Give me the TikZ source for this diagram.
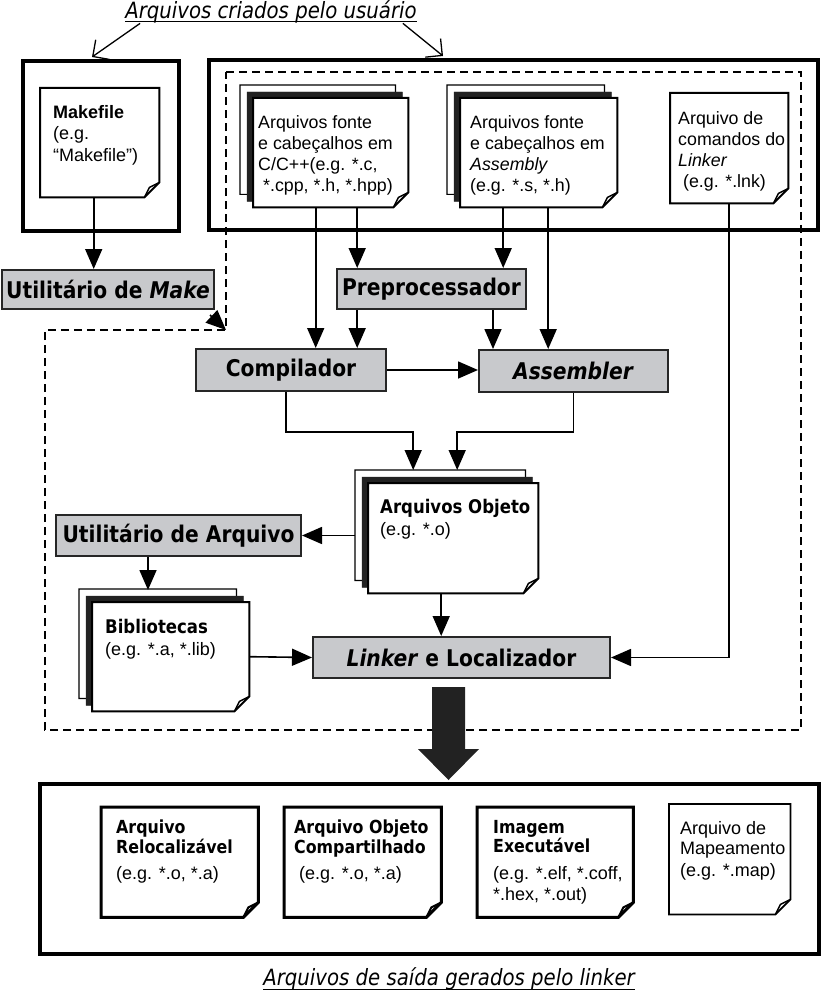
\documentclass[tikz,border=0pt]{standalone}
\usepackage{fontspec}
\setmainfont{DejaVu Sans}[FakeStretch=0.88]
\newfontfamily\arial{Liberation Sans}
\usetikzlibrary{arrows.meta}
\definecolor{cinzacaixa}{RGB}{200,201,204}
\definecolor{pretofolha}{RGB}{34,34,34}
\newcommand{\folha}[3][]{%
\draw[#1] ([shift={(-#3,#3)}]#2.north west) -- ([shift={(-#3,#3)}]#2.north east)
 -- ([shift={(-#3,15pt+#3)}]#2.south east) -- ([shift={(-15pt-#3,#3)}]#2.south east)
 -- ([shift={(-#3,#3)}]#2.south west) -- cycle;}
\newcommand{\dobra}[2][]{%
\draw[#1,line join=round] ([xshift=-15pt]#2.south east) -- ([shift={(-10pt,10pt)}]#2.south east)
 -- ([yshift=15pt]#2.south east);}
\newcommand{\pilha}[1]{%
\folha[fill=white,line width=1.2pt]{#1}{13pt}
\folha[fill=pretofolha,draw=pretofolha]{#1}{6pt}}

\begin{document}
\begin{tikzpicture}[x=1pt,y=-1pt,
seta/.style={line width=1.6pt,-{Triangle[length=20pt,width=17pt]}},
aberta/.style={line width=1.3pt,-{Straight Barb[length=12pt,width=24pt]}},
caixa/.style={draw,line width=4pt,anchor=north west,inner sep=0pt},
processo/.style={draw=black!85,line width=2pt,fill=cinzacaixa,anchor=north west,inner sep=0pt,
 font=\bfseries\fontsize{23}{26}\selectfont},
folhano/.style={anchor=north west,inner sep=0pt},
texto/.style={anchor=north west,inner sep=0pt,align=left,font=\fontsize{18}{21}\selectfont},
fonte/.style={texto,font=\arial\fontsize{17.8}{21.2}\selectfont},
titulo/.style={anchor=base,inner sep=0pt,font=\itshape\fontsize{22.4}{26}\selectfont},
tracejado/.style={line width=1.8pt,dash pattern=on 8pt off 5pt}]
\useasboundingbox (0,0) rectangle (820,1000);

\node[titulo] (tit1) at (271,18.5) {Arquivos criados pelo usuário};
\draw[line width=1pt] ([yshift=-3.5pt]tit1.base west) -- ([yshift=-3.5pt]tit1.base east);
\node[caixa,minimum width=156pt,minimum height=170pt] (usrmake) at (21,59) {};
\node[caixa,minimum width=609pt,minimum height=170pt] (usrfont) at (207,58) {};
\draw[aberta] ([xshift=15pt]tit1.south west) -- ([shift={(-9pt,2pt)}]usrmake.north);
\draw[aberta] ([xshift=-14pt]tit1.south east) -- ([shift={(236pt,2pt)}]usrfont.north west);
\draw[tracejado] (226,72) -- (801,72) -- (801,730) -- (45,730) -- (45,330)
 -- (226,330) coordinate (dcanto) -- cycle;

\node[folhano,minimum width=119pt,minimum height=109pt] (mkf) at (40,88) {};
\folha[fill=white,line width=2pt]{mkf}{0pt}\dobra[line width=1.5pt]{mkf}
\node[texto,font=\arial\fontsize{18}{21.5}\selectfont] (mkft) at (53,105)
 {\textbf{Makefile}\\(e.g.\\“Makefile”)};
\node[folhano,minimum width=155pt,minimum height=109pt] (cpp) at (253,98) {};
\pilha{cpp}\folha[fill=white,line width=2pt]{cpp}{0pt}\dobra[line width=1.5pt]{cpp}
\node[fonte] (cppt) at (258,115)
 {Arquivos fonte\\e cabeçalhos em\\C/C++(e.g. *.c,\\\ *.cpp, *.h, *.hpp)};
\node[folhano,minimum width=157pt,minimum height=109pt] (asmd) at (460,98) {};
\pilha{asmd}\folha[fill=white,line width=2pt]{asmd}{0pt}\dobra[line width=1.5pt]{asmd}
\node[fonte] (asmt) at (470,115)
 {Arquivos fonte\\e cabeçalhos em\\\textit{Assembly}\\(e.g. *.s, *.h)};
\node[folhano,minimum width=118pt,minimum height=110pt] (lnkd) at (670,93) {};
\folha[fill=white,line width=2pt]{lnkd}{0pt}\dobra[line width=1.5pt]{lnkd}
\node[fonte] (lnkt) at (678,111)
 {Arquivo de\\comandos do\\\textit{Linker}\\\ (e.g. *.lnk)};

\node[processo,minimum width=212pt,minimum height=39pt] (umk) at (1,269) {Utilitário de \textit{Make}};
\node[processo,minimum width=189pt,minimum height=40pt] (pre) at (336,268) {Preprocessador};
\node[processo,minimum width=190pt,minimum height=42pt] (comp) at (195,348) {Compilador};
\node[processo,minimum width=189pt,minimum height=42pt] (asmb) at (478,349) {\textit{Assembler}};
\node[processo,minimum width=245pt,minimum height=41pt] (uarq) at (55,514) {Utilitário de Arquivo};
\node[processo,minimum width=297pt,minimum height=41pt] (link) at (312,636) {\textit{Linker} e Localizador};

\node[folhano,minimum width=170pt,minimum height=110pt] (obj) at (368,483) {};
\pilha{obj}\folha[fill=white,line width=2pt]{obj}{0pt}\dobra[line width=1.5pt]{obj}
\node[texto,font=\fontsize{18.8}{22}\selectfont] (objt) at (380,499)
 {\textbf{Arquivos Objeto}\\{\arial\fontsize{18}{22}\selectfont(e.g. *.o)}};
\node[folhano,minimum width=157pt,minimum height=109pt] (bib) at (92,602) {};
\pilha{bib}\folha[fill=white,line width=2pt]{bib}{0pt}\dobra[line width=1.5pt]{bib}
\node[texto,font=\fontsize{18.8}{22}\selectfont] (bibt) at (105,619)
 {\textbf{Bibliotecas}\\{\arial\fontsize{18}{22}\selectfont(e.g. *.a, *.lib)}};

\draw[seta] ([xshift=-6pt]mkf.south) coordinate (mA) -- (mA |- umk.north);
\draw[seta] ([shift={(-5pt,-5pt)}]umk.south east) -- (dcanto);
\coordinate (cA) at ([xshift=-15pt]cpp.south);
\coordinate (cB) at ([xshift=26.5pt]cpp.south);
\coordinate (aA) at ([xshift=-35.5pt]asmd.south);
\coordinate (aB) at ([xshift=9.5pt]asmd.south);
\coordinate (pA) at ([xshift=61.5pt]pre.south);
\draw[seta] (cA) -- (cA |- comp.north);
\draw[seta] (cB) -- (cB |- pre.north);
\draw[seta] (cB |- pre.south) -- (cB |- comp.north);
\draw[seta] (aA) -- (aA |- pre.north);
\draw[seta] (pA) -- (pA |- asmb.north);
\draw[seta] (aB) -- (aB |- asmb.north);
\draw[seta] (comp.east) -- (comp.east -| asmb.west);
\draw[seta] ([xshift=-5pt]comp.south) -- ++(0,40) -| ([shift={(-40pt,13pt)}]obj.north);
\draw[seta] (asmb.south) -- ++(0,39) -| ([shift={(4pt,13pt)}]obj.north);
\draw[seta] ([xshift=-13pt]obj.west |- uarq.east) -- (uarq.east);
\draw[seta] ([xshift=-30.5pt]uarq.south) -- ++(0,33);
\draw[seta] (bib.east) -- (link.west);
\draw[seta] ([xshift=-12pt]obj.south) coordinate (oC) -- (oC |- link.north);
\draw[seta] (lnkd.south) |- (link.east);
\coordinate (sA) at ([shift={(-13pt,-8pt)}]link.south);
\fill[pretofolha] (sA) ++(-16.5,0) -- ++(33,0) -- ++(0,62) -- ++(14,0) -- ++(-30.5,31)
 -- ++(-30.5,-31) -- ++(14,0) -- cycle;

\node[caixa,minimum width=779pt,minimum height=170pt] (saidas) at (38,782) {};
\node[folhano,minimum width=157pt,minimum height=110pt] (reloc) at (101,807) {};
\folha[fill=white,line width=3pt]{reloc}{0pt}\dobra[line width=2pt]{reloc}
\node[texto,font=\fontsize{18}{19.5}\selectfont] (reloct) at (116,820)
 {\textbf{Arquivo}\\\textbf{Relocalizável}\\[7pt]{\arial(e.g. *.o, *.a)}};
\node[folhano,minimum width=157pt,minimum height=110pt] (compart) at (284,807) {};
\folha[fill=white,line width=3pt]{compart}{0pt}\dobra[line width=2pt]{compart}
\node[texto,font=\fontsize{18}{19.5}\selectfont] (compartt) at (294,820)
 {\textbf{Arquivo Objeto}\\\textbf{Compartilhado}\\[7pt]{\arial\ (e.g. *.o, *.a)}};
\node[folhano,minimum width=156pt,minimum height=110pt] (exec) at (477,807) {};
\folha[fill=white,line width=3pt]{exec}{0pt}\dobra[line width=2pt]{exec}
\node[texto,font=\fontsize{18}{19.5}\selectfont] (exect) at (493,820)
 {\textbf{Imagem}\\\textbf{Executável}\\[7pt]{\arial(e.g. *.elf, *.coff,}\\[1.5pt]{\arial*.hex, *.out)}};
\node[folhano,minimum width=121pt,minimum height=110pt] (mapa) at (669,804) {};
\folha[fill=white,line width=1.8pt]{mapa}{0pt}\dobra[line width=1.5pt]{mapa}
\node[fonte,font=\arial\fontsize{18}{20}\selectfont] (mapat) at (680,821)
 {Arquivo de\\Mapeamento\\[2pt](e.g. *.map)};

\node[titulo] (tit2) at (449,985) {Arquivos de saída gerados pelo linker};
\draw[line width=1pt] ([yshift=-4pt]tit2.base west) -- ([yshift=-4pt]tit2.base east);
\end{tikzpicture}
\end{document}
